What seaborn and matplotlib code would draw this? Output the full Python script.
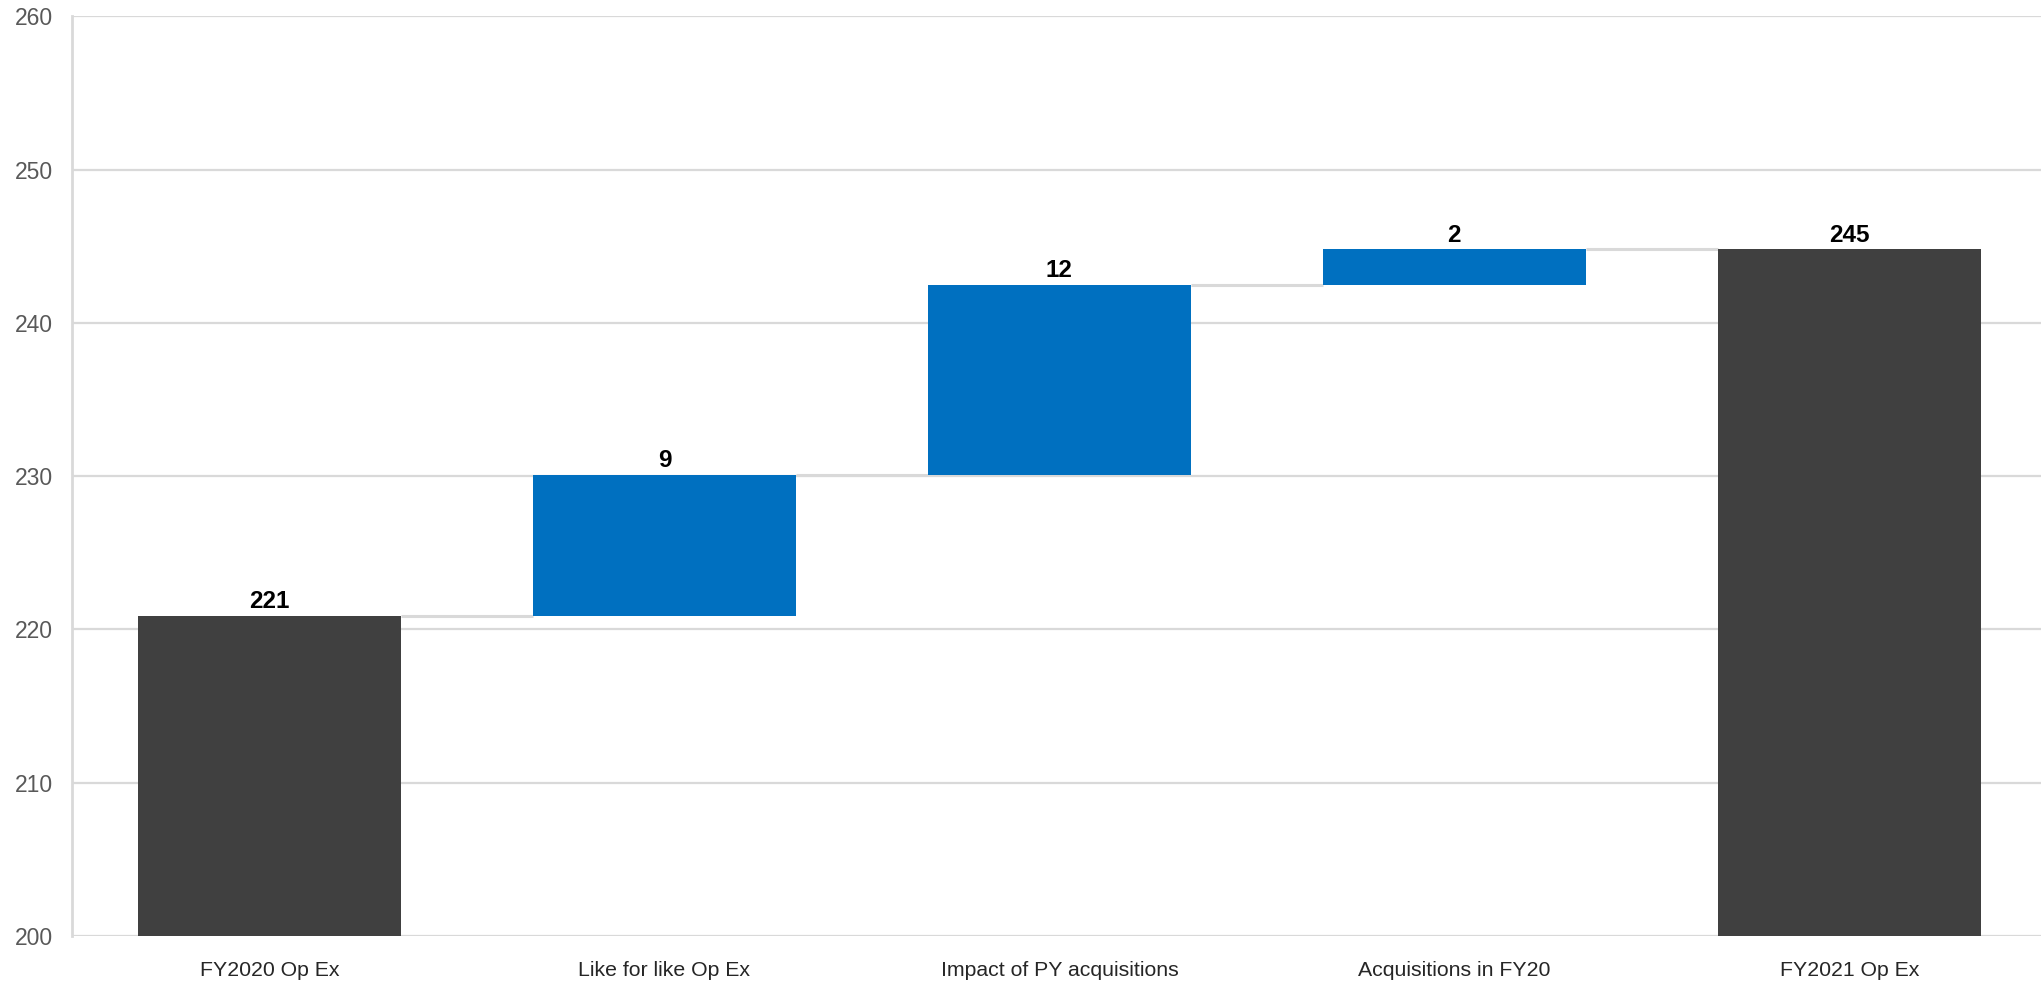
import matplotlib
matplotlib.use("Agg")
import matplotlib.pyplot as plt
import seaborn as sns
import numpy as np
import pandas as pd

# Operating expenditure bridge, FY2020 -> FY2021
categories = ["FY2020 Op Ex", "Like for like Op Ex", "Impact of PY acquisitions",
              "Acquisitions in FY20", "FY2021 Op Ex"]
steps = [220.9, 9.2, 12.4, 2.3]          # opening total followed by increments
is_total = [True, False, False, False, True]
y_ticks = [200, 210, 220, 230, 240, 250, 260]

# Cumulative levels for the floating bars
opening = steps[0]
deltas = steps[1:]
levels = np.cumsum([opening] + deltas)
closing = levels[-1]
heights = [opening] + deltas + [closing]
bases = [0.0] + list(levels[:-1]) + [0.0]

df = pd.DataFrame({"category": categories, "height": heights})

TOTAL_COLOR = "#404040"
DELTA_COLOR = "#0070C0"
GRID_COLOR = "#D9D9D9"

sns.set_theme(style="white")
plt.rcParams["font.family"] = ["Liberation Sans", "DejaVu Sans"]

fig = plt.figure(figsize=(20.41, 9.86), dpi=100)
ax = fig.add_axes([0.0353, 0.0507, 0.9675, 0.9326])

bar_width = 0.667
sns.barplot(data=df, x="category", y="height", order=categories,
            color=DELTA_COLOR, width=bar_width, bottom=bases,
            saturation=1, ax=ax, zorder=2, linewidth=0)

container = ax.containers[0]
for patch, tot in zip(container.patches, is_total):
    patch.set_facecolor(TOTAL_COLOR if tot else DELTA_COLOR)
    patch.set_edgecolor("none")

# Value labels above each bar
labels = [f"{h:.0f}" for h in heights]
ax.bar_label(container, labels=labels, padding=2, fontsize=17.5,
             fontweight="bold", color="black")

# Connectors from each bar's top to the next bar
conn_levels = [opening] + list(levels[1:])
for i, lvl in enumerate(conn_levels):
    ax.hlines(lvl, i + bar_width / 2, i + 1 - bar_width / 2,
              color=GRID_COLOR, linewidth=2.2, zorder=1.5)

ax.set_ylim(y_ticks[0], y_ticks[-1])
ax.set_xlim(-0.5, len(categories) - 0.5)
ax.set_yticks(y_ticks)
ax.yaxis.grid(True, color=GRID_COLOR, linewidth=1.6, zorder=0)
ax.set_axisbelow(True)

for side in ["top", "right", "bottom"]:
    ax.spines[side].set_visible(False)
ax.spines["left"].set_color(GRID_COLOR)
ax.spines["left"].set_linewidth(2)

ax.set_xlabel("")
ax.set_ylabel("")
ax.tick_params(axis="y", length=0, pad=14, labelsize=16.5, labelcolor="#595959")
ax.tick_params(axis="x", length=0, pad=18, labelsize=15.3, labelcolor="#262626")

fig.savefig("out.png", dpi=100, facecolor="white")
